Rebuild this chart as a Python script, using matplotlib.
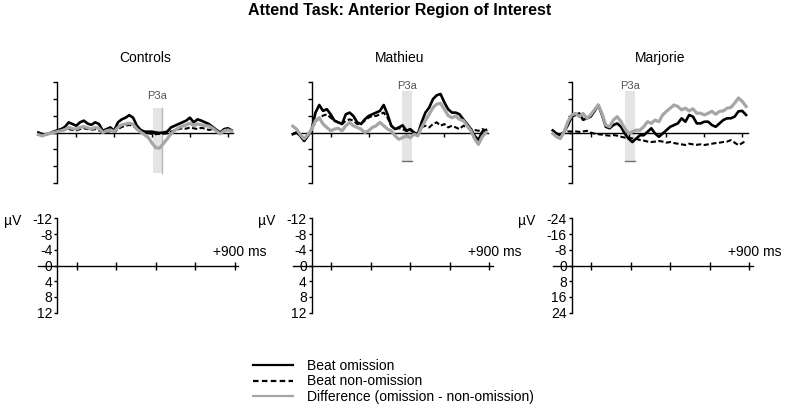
import numpy as np
import matplotlib
matplotlib.use("Agg")
import matplotlib.pyplot as plt
from matplotlib.lines import Line2D

plt.rcParams["font.family"] = ["Liberation Sans", "DejaVu Sans"]

# =========================
# Data (µV, negative plotted up)
# =========================
times = [-100, -80, -60, -40, -20, 0, 20, 40, 60, 80, 100, 120, 140, 160, 180,
         200, 220, 240, 260, 280, 300, 320, 340, 360, 380, 400, 420, 440, 460,
         480, 500, 520, 540, 560, 580, 600, 620, 640, 660, 680, 700, 720, 740,
         760, 780, 800, 820, 840, 860, 880, 900, 920]

panel_names = ["Controls", "Mathieu", "Marjorie"]
scale_limits = [12, 12, 24]

controls_omission = [0, 0.4, 0.5, 0.2, -0.2, -0.5, -0.8, -1.3, -2.4, -2.0, -1.6,
                     -2.4, -2.8, -2.1, -1.8, -2.4, -2.0, -0.4, -0.8, -1.2, -0.4,
                     -2.4, -3.1, -3.5, -4.1, -3.5, -1.6, -0.6, -0.2, -0.2, -0.2,
                     0, 0.1, 0, -0.2, -1.2, -1.6, -2.0, -2.4, -2.8, -3.5, -2.4,
                     -3.1, -2.8, -2.4, -2.0, -1.3, -0.6, 0, -0.8, -1.0, -0.5]
controls_nonomission = [0.3, 0.5, 0.4, 0.2, 0, -0.3, -0.5, -0.6, -0.8, -0.6, -0.5,
                        -0.8, -1.0, -0.8, -0.6, -0.8, -0.5, 0, -0.2, -0.3, 0,
                        -0.8, -1.3, -1.6, -1.8, -1.6, -0.8, -0.3, 0, 0.2, 0.3,
                        0.4, 0.3, 0.3, 0.2, -0.2, -0.5, -0.8, -1.0, -0.9, -1.2,
                        -1.0, -0.8, -1.1, -0.9, -0.6, -0.8, -0.4, 0, -0.3, -0.5, -0.3]
controls_difference = [0.5, 0.8, 0.5, 0.2, 0, -0.2, -0.4, -0.7, -1.2, -0.9, -0.8,
                       -1.2, -1.4, -1.1, -0.8, -1.2, -1.0, 0, -0.4, -0.6, -0.2,
                       -1.2, -1.8, -2.0, -2.2, -1.9, -0.8, -0.1, 0.5, 1.2, 2.5,
                       3.6, 3.7, 2.6, 1.5, 0.3, -0.5, -1.1, -1.5, -1.8, -2.2,
                       -1.6, -2.0, -1.8, -1.6, -1.5, -1.0, -0.3, 0.3, -0.4, -0.6, -0.3]

mathieu_omission = [0.4, 0, 0.8, 2.0, 0.8, -0.8, -4.7, -6.5, -5.1, -5.5, -4.3,
                    -2.8, -2.4, -2.0, -4.3, -4.7, -3.9, -2.4, -2.0, -3.1, -3.9,
                    -4.3, -4.7, -5.1, -6.5, -4.3, -1.6, -0.8, -1.2, -1.7, -0.4,
                    -0.8, 0, 0.4, -2.4, -4.7, -5.9, -7.9, -8.8, -9.1, -7.1,
                    -5.5, -4.7, -4.7, -4.3, -3.1, -2.0, -0.8, 0.8, 1.8, -0.2, -0.6]
mathieu_nonomission = [0.4, 0, 0.8, 2.0, 0.8, -0.8, -2.5, -3.5, -4.0, -4.3, -3.5,
                       -2.8, -2.4, -2.0, -2.8, -3.1, -2.8, -2.0, -2.0, -2.8, -3.5,
                       -3.9, -3.9, -4.3, -4.7, -3.5, -1.6, -0.8, -1.0, -0.8, -0.4,
                       -0.6, 0, 0.2, -1.2, -1.6, -1.2, -2.0, -2.4, -1.6, -2.0,
                       -1.2, -1.6, -1.2, -0.8, -1.6, -1.2, -0.8, -0.6, -0.4, -0.8, -0.5]
mathieu_difference = [-1.5, -0.8, 0.5, 1.5, 0.5, -0.8, -2.8, -3.5, -2.0, -1.2, -0.4,
                      -0.8, -1.0, -0.4, -1.6, -2.4, -1.6, -1.2, -0.8, 0, -0.4,
                      -1.2, -1.6, -2.4, -1.6, -0.8, -0.4, 0.8, 1.6, 1.2, 0.8,
                      1.2, 0.4, 0.8, -1.2, -2.8, -4.3, -5.9, -6.7, -6.9, -5.5,
                      -4.0, -3.5, -3.9, -3.1, -2.8, -1.6, -0.4, 1.5, 2.8, 1.0, 0]

marjorie_omission = [-1.0, 0.5, 1.3, -0.3, -3.5, -7.5, -8.3, -9.0, -6.0, -6.7, -7.5,
                     -10.0, -13.0, -8.3, -2.7, -2.0, -3.5, -4.3, -2.7, 0.5, 2.9,
                     4.5, 2.9, 1.3, 1.3, -0.3, -2.0, 0.5, 2.0, 0.5, -1.1,
                     -2.7, -3.5, -4.3, -6.7, -5.1, -8.3, -7.5, -4.3, -4.3, -5.1,
                     -5.1, -3.5, -2.7, -4.3, -5.9, -6.7, -6.7, -7.5, -10.0, -10.2, -8.3]
marjorie_nonomission = [0, 0.5, 0.8, 0, -0.5, -0.5, -0.5, -0.3, -0.5, -0.8, 0,
                        0.5, 0.8, 1.0, 1.3, 1.5, 1.2, 1.5, 2.0, 2.4, 2.5,
                        2.8, 3.0, 3.5, 3.8, 4.3, 4.5, 4.3, 4.0, 4.3, 4.8,
                        4.5, 5.0, 5.3, 5.6, 5.9, 5.3, 5.6, 5.8, 5.6, 5.9,
                        5.6, 5.3, 5.0, 4.8, 4.5, 4.3, 3.6, 4.8, 6.0, 5.0, 3.8]
marjorie_difference = [0.5, 2.0, 2.9, -0.3, -5.1, -8.3, -9.0, -7.5, -9.0, -6.7, -8.3,
                       -10.7, -13.0, -9.0, -3.5, -2.7, -5.9, -7.5, -5.1, -1.9, 0.5,
                       -0.3, -1.1, -1.1, -2.7, -5.1, -4.3, -5.9, -5.1, -8.3, -10.0,
                       -11.5, -13.0, -12.3, -10.7, -11.5, -10.2, -11.2, -9.1, -9.1, -8.3,
                       -9.1, -10.0, -8.6, -10.0, -10.2, -11.5, -11.8, -13.9, -16.3, -14.7, -12.3]

omission = [controls_omission, mathieu_omission, marjorie_omission]
nonomission = [controls_nonomission, mathieu_nonomission, marjorie_nonomission]
difference = [controls_difference, mathieu_difference, marjorie_difference]

# P3a window per panel: start ms, end ms, top µV, bottom µV
p3a_windows = [(503, 554, -5.9, 9.5), (475, 528, -9.9, 6.7), (281, 334, -19.7, 13.7)]
p3a_label_y = [-8.7, -11.0, -22.0]

x_ticks = [100, 300, 500, 700, 900]

# =========================
# Layout helpers (pixels)
# =========================
W, H = 787, 407
fig = plt.figure(figsize=(W / 100, H / 100), dpi=100)


def px_axes(left, top, width, height):
    return fig.add_axes([left / W, 1 - (top + height) / H, width / W, height / H])


def style_axes(ax, lim, xbounds):
    ax.set_xlim(-110, 940)
    ax.set_ylim(lim, -lim)
    ax.patch.set_alpha(0)
    for s in ["top", "right"]:
        ax.spines[s].set_visible(False)
    ax.spines["left"].set_position(("data", 0))
    ax.spines["bottom"].set_position(("data", 0))
    ax.spines["left"].set_bounds(-lim, lim)
    ax.spines["bottom"].set_bounds(*xbounds)
    for s in ["left", "bottom"]:
        ax.spines[s].set_linewidth(1.0)
    ax.set_xticks(x_ticks)
    ax.set_yticks(np.linspace(-lim, lim, 7))


origins = [57.3, 311.7, 571.7]
fig.text(400 / W, 1 - 11 / H, "Attend Task: Anterior Region of Interest",
         ha="center", va="center", fontsize=11.5, fontweight="bold")

for i, name in enumerate(panel_names):
    x0 = origins[i]
    lim = scale_limits[i]
    fig.text((x0 + 88) / W, 1 - 58 / H, name, ha="center", va="center", fontsize=10)

    # ---- waveform panel ----
    ax = px_axes(x0 - 110 * 0.1895, 81.7, 1050 * 0.1895, 101.6)
    style_axes(ax, lim, (-100, 928))
    ax.tick_params(axis="x", direction="out", length=3, width=1.0, labelbottom=False)
    ax.tick_params(axis="y", direction="out", length=3, width=1.0, labelleft=False)

    t0, t1, b_top, b_bot = p3a_windows[i]
    ax.fill_betweenx([b_top, b_bot], t0, t1, color="#e4e4e4", lw=0, zorder=0)
    if i == 0:
        ax.plot([t1, t1], [b_top, b_bot], color="#b8b8b8", lw=1.0, zorder=1)
    else:
        ax.plot([t0, t1], [b_bot, b_bot], color="#707070", lw=1.0, zorder=1)
    ax.text((t0 + t1) / 2, p3a_label_y[i], "P3a", ha="center", va="center",
            fontsize=8, color="#555555")

    ax.plot(times, nonomission[i], color="black", lw=1.5, ls=(0, (2.5, 1.2)), zorder=3)
    ax.plot(times, omission[i], color="black", lw=1.9, zorder=4)
    ax.plot(times, difference[i], color="#a6a6a6", lw=2.3, zorder=5)

    # ---- scale panel ----
    sx = px_axes(x0 - 110 * 0.197, 218.3, 1050 * 0.197, 94.4)
    style_axes(sx, lim, (-97, 918))
    sx.tick_params(axis="x", direction="inout", length=6, width=1.0, labelbottom=False)
    sx.tick_params(axis="y", direction="out", length=2.5, width=1.0, pad=1,
                   labelsize=10)
    sx.set_yticklabels([f"{int(v)}" for v in np.linspace(-lim, lim, 7)])
    fig.text((x0 - 36) / W, 1 - 221 / H, "µV", ha="right", va="center", fontsize=10)
    fig.text((x0 + 209.4) / W, 1 - 251.7 / H, "+900 ms", ha="right", va="center",
             fontsize=10)

# ---- legend ----
handles = [
    Line2D([], [], color="black", lw=1.6),
    Line2D([], [], color="black", lw=1.6, ls=(0, (2.5, 1.5))),
    Line2D([], [], color="#a6a6a6", lw=1.6),
]
labels = ["Beat omission", "Beat non-omission", "Difference (omission - non-omission)"]
fig.legend(handles, labels, loc="upper left",
           bbox_to_anchor=(253 / W, 1 - 359 / H), frameon=False, fontsize=10,
           handlelength=2.9, handletextpad=1.0, labelspacing=0.1,
           borderpad=0, borderaxespad=0)

fig.savefig("out.png", dpi=100)
